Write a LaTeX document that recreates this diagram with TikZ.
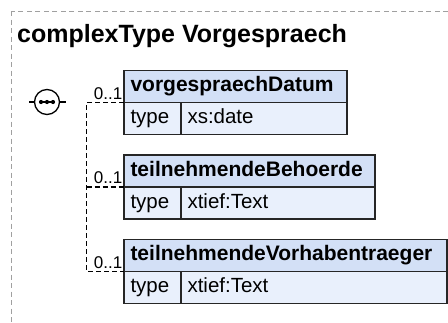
\documentclass[tikz,border=0pt]{standalone}
\usepackage{fontspec}
\setmainfont{Liberation Sans}
\usetikzlibrary{positioning,calc}
\definecolor{FrameGray}{HTML}{A0A0A0}
\definecolor{BoxLine}{HTML}{262626}
\definecolor{HeadBlue}{HTML}{D3E0F6}
\definecolor{RowBlue}{HTML}{E9F0FC}

\begin{document}
\begin{tikzpicture}[x=1pt,y=-1pt,
    frame/.style={
      draw=FrameGray,
      line width=0.9pt,
      dash pattern=on 5pt off 3.5pt
    },
    title/.style={
      font=\fontsize{25}{29}\selectfont\bfseries,
      anchor=base west,
      inner sep=0pt
    },
    elemhead/.style={
      draw=BoxLine,
      fill=HeadBlue,
      line width=1.3pt,
      minimum width=#1,
      text width={#1-13pt},
      minimum height=32pt,
      inner xsep=6.5pt,
      inner ysep=0pt,
      outer sep=0pt,
      anchor=north west,
      align=left,
      font=\fontsize{21}{24}\selectfont\bfseries,
      text height=15pt,
      text depth=4.5pt
    },
    cell/.style={
      draw=BoxLine,
      fill=RowBlue,
      line width=1.3pt,
      minimum width=#1,
      text width={#1-13pt},
      minimum height=32pt,
      inner xsep=6.5pt,
      inner ysep=0pt,
      outer sep=0pt,
      anchor=north west,
      align=left,
      font=\fontsize{20.5}{24}\selectfont,
      text height=15pt,
      text depth=4.5pt
    },
    conn/.style={
      draw=black,
      line width=1.3pt,
      dash pattern=on 5pt off 3pt
    },
    card/.style={
      font=\fontsize{17}{19}\selectfont,
      anchor=south east,
      inner xsep=1.5pt,
      inner ysep=3pt
    },
    seqnode/.style={
      circle,
      draw=black,
      fill=white,
      line width=1.3pt,
      minimum size=25pt,
      inner sep=0pt,
      outer sep=0pt
    }
  ]
  \useasboundingbox (0,0) rectangle (448,322);
  \clip (0,0) rectangle (448,322);

  % Outer frame and title
  \draw[frame] (11,11) rectangle (470,340);
  \node[title] (ttl) at (17,42.7) {complexType Vorgespraech};

  % Sequence compositor
  \node[seqnode] (seq) at (47,102) {};
  \draw[line width=1.3pt] (seq.west) -- ++(-6,0);
  \draw[line width=1.3pt] (seq.east) -- ++(6,0);
  \draw[line width=1.3pt] ($(seq.center)+(-7,0)$) -- ($(seq.center)+(7,0)$);
  \foreach \dx in {-6,0,6}
    \fill ($(seq.center)+(\dx,0)$) circle (2.1pt);

  % Element boxes
  \node[elemhead=223pt] (hdrDatum) at (124,70.7) {vorgespraechDatum};
  \node[cell=57pt] (typDatum) at (hdrDatum.south west) {type};
  \node[cell=166pt] (valDatum) at (typDatum.north east) {xs:date};

  \node[elemhead=251pt] (hdrBehoerde) at (124,155) {teilnehmendeBehoerde};
  \node[cell=57pt] (typBehoerde) at (hdrBehoerde.south west) {type};
  \node[cell=194pt] (valBehoerde) at (typBehoerde.north east) {xtief:Text};

  \node[elemhead=323pt] (hdrVorhaben) at (124,239.5) {teilnehmendeVorhabentraeger};
  \node[cell=57pt] (typVorhaben) at (hdrVorhaben.south west) {type};
  \node[cell=266pt] (valVorhaben) at (typVorhaben.north east) {xtief:Text};

  % Connectors
  \coordinate (fork) at (86.5,0 |- hdrDatum.south west);
  \draw[conn] (hdrDatum.south west) -- (fork) -- (fork |- hdrVorhaben.south west)
    -- (hdrVorhaben.south west);
  \draw[conn] (fork |- hdrBehoerde.south west) -- (hdrBehoerde.south west);

  % Cardinalities
  \node[card] (cardDatum) at (hdrDatum.south west) {0..1};
  \node[card] (cardBehoerde) at (hdrBehoerde.south west) {0..1};
  \node[card] (cardVorhaben) at (hdrVorhaben.south west) {0..1};

\end{tikzpicture}
\end{document}
